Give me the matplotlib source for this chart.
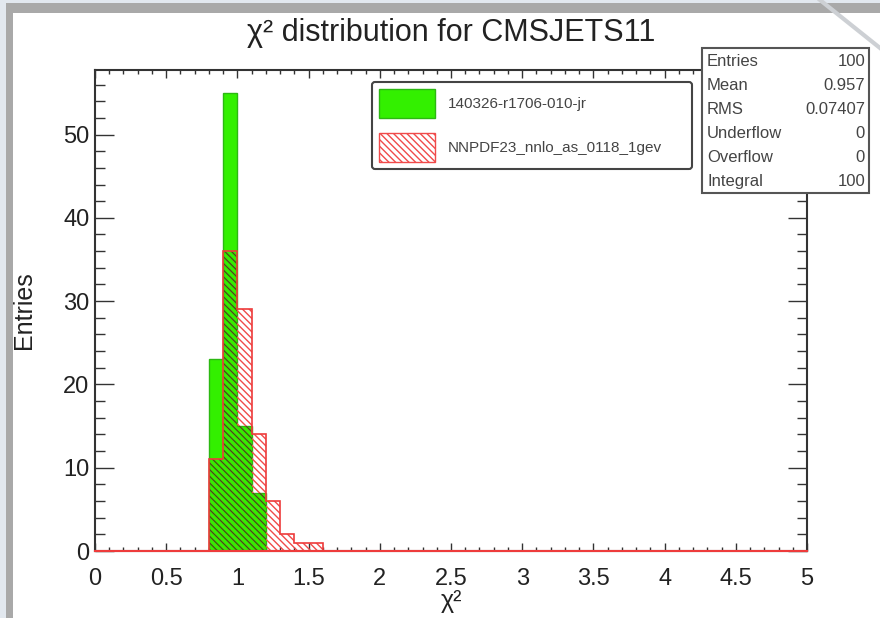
import numpy as np
import matplotlib.pyplot as plt
from matplotlib.patches import Rectangle
from matplotlib.lines import Line2D
from matplotlib.ticker import MultipleLocator, FuncFormatter

plt.rcParams['font.family'] = ['Liberation Sans', 'DejaVu Sans']
plt.rcParams['hatch.linewidth'] = 1.0

# chi2 histograms, 50 bins from 0 to 5
edges = np.linspace(0, 5, 51)

# non-empty bins: lower bin edge and number of entries
green_lo = [0.8, 0.9, 1.0, 1.1]
green_n = [23, 55, 15, 7]
red_lo = [0.8, 0.9, 1.0, 1.1, 1.2, 1.3, 1.4, 1.5]
red_n = [11, 36, 29, 14, 6, 2, 1, 1]

green_label = '140326-r1706-010-jr'
red_label = 'NNPDF23_nnlo_as_0118_1gev'

stat_names = ['Entries', 'Mean', 'RMS', 'Underflow', 'Overflow', 'Integral']
stat_values = ['100', '0.957', '0.07407', '0', '0', '100']


def fill_bins(lo, n):
    h = np.zeros(len(edges) - 1)
    idx = np.digitize(np.array(lo) + 1e-6, edges) - 1
    h[idx] = n
    return h


green = fill_bins(green_lo, green_n)
red = fill_bins(red_lo, red_n)

W, H = 880, 618
fig = plt.figure(figsize=(W / 100, H / 100), dpi=100, facecolor='#e2e8ef')


def fx(x):
    return x / W


def fy(y):
    return 1 - y / H


# slide frame behind the canvas
fig.add_artist(Rectangle((fx(6), 0), 1, fy(3), transform=fig.transFigure,
                         facecolor='#a9a9a9', edgecolor='none', zorder=-3))
fig.add_artist(Rectangle((fx(13), 0), 1, fy(13), transform=fig.transFigure,
                         facecolor='white', edgecolor='none', zorder=-2))
fig.add_artist(Line2D([fx(820), fx(885)], [fy(0), fy(52)], transform=fig.transFigure,
                      color='#cdd0d4', lw=3, zorder=-1))

ax = fig.add_axes([fx(95), fy(551), fx(807) - fx(95), (551 - 70) / H])
ax.set_facecolor('white')

hatch = '\\\\\\\\\\'
hg = ax.stairs(green, edges, fill=True, facecolor='#33f000', edgecolor='#2cb812',
               lw=1, zorder=2, label=green_label)
hr = ax.stairs(red, edges, fill=True, facecolor='none', edgecolor='#f04a4a',
               hatch=hatch, lw=0, zorder=3, label=red_label)
# hatch lines look darker where they cross the green fill
ax.stairs(np.minimum(green, red), edges, fill=True, facecolor='none',
          edgecolor='#2f6a12', hatch=hatch, lw=0, zorder=4)
ax.stairs(red, edges, fill=False, color='#ee3b3b', lw=1.2, zorder=5,
          baseline=0)
ax.plot([0, 5], [0, 0], color='#ee3b3b', lw=1.5, zorder=5, clip_on=False)

ax.set_xlim(0, 5)
ax.set_ylim(0, 57.75)

ax.xaxis.set_major_locator(MultipleLocator(0.5))
ax.xaxis.set_minor_locator(MultipleLocator(0.1))
ax.yaxis.set_major_locator(MultipleLocator(10))
ax.yaxis.set_minor_locator(MultipleLocator(2))
ax.xaxis.set_major_formatter(FuncFormatter(lambda v, p: f'{v:g}'))

ax.tick_params(which='both', direction='in', top=True, right=True,
               color='#333333', width=1, labelsize=17, labelcolor='#222222')
ax.tick_params(axis='x', which='major', length=6, pad=12)
ax.tick_params(axis='x', which='minor', length=3)
ax.tick_params(axis='y', which='major', length=14, pad=4)
ax.tick_params(axis='y', which='minor', length=7)
for s in ax.spines.values():
    s.set_linewidth(1.5)
    s.set_color('#333333')

ax.set_xlabel('χ²', fontsize=18, color='#222222')
ax.xaxis.set_label_coords(0.5, -0.08)
ax.set_ylabel('Entries', fontsize=18, color='#222222')
ax.yaxis.set_label_coords(-0.083, 0.5)
ax.set_title('χ² distribution for CMSJETS11', fontsize=22, color='#222222', pad=21)

hr_leg = ax.stairs([0], [0, 1], fill=True, facecolor='none', edgecolor='#f04a4a',
                   hatch=hatch, lw=1, visible=False)
leg = ax.legend(handles=[hg, hr_leg], labels=[green_label, red_label], loc='upper left',
                bbox_to_anchor=(fx(372), fy(190), (692 - 372) / W, (190 - 82) / H),
                bbox_transform=fig.transFigure, mode='expand', borderaxespad=0,
                fontsize=11, labelcolor='#444444', handlelength=3.7, handleheight=2.55,
                handletextpad=0.8, labelspacing=1.0, borderpad=0.45,
                fancybox=True, framealpha=1, edgecolor='#444444')
leg.get_frame().set_linewidth(1.5)
for h in leg.legend_handles:
    h.set_visible(True)

# statistics box
fig.add_artist(Rectangle((fx(702), fy(193)), (869 - 702) / W, (193 - 48) / H,
                         transform=fig.transFigure, facecolor='white',
                         edgecolor='#555555', lw=1.5, zorder=5))
for i, (name, val) in enumerate(zip(stat_names, stat_values)):
    y = fy(62 + 24 * i)
    fig.text(fx(707), y, name, ha='left', va='center', fontsize=12,
             color='#444444', zorder=6)
    fig.text(fx(865), y, val, ha='right', va='center', fontsize=12,
             color='#444444', zorder=6)

fig.savefig('out.png', dpi=100, facecolor=fig.get_facecolor())
